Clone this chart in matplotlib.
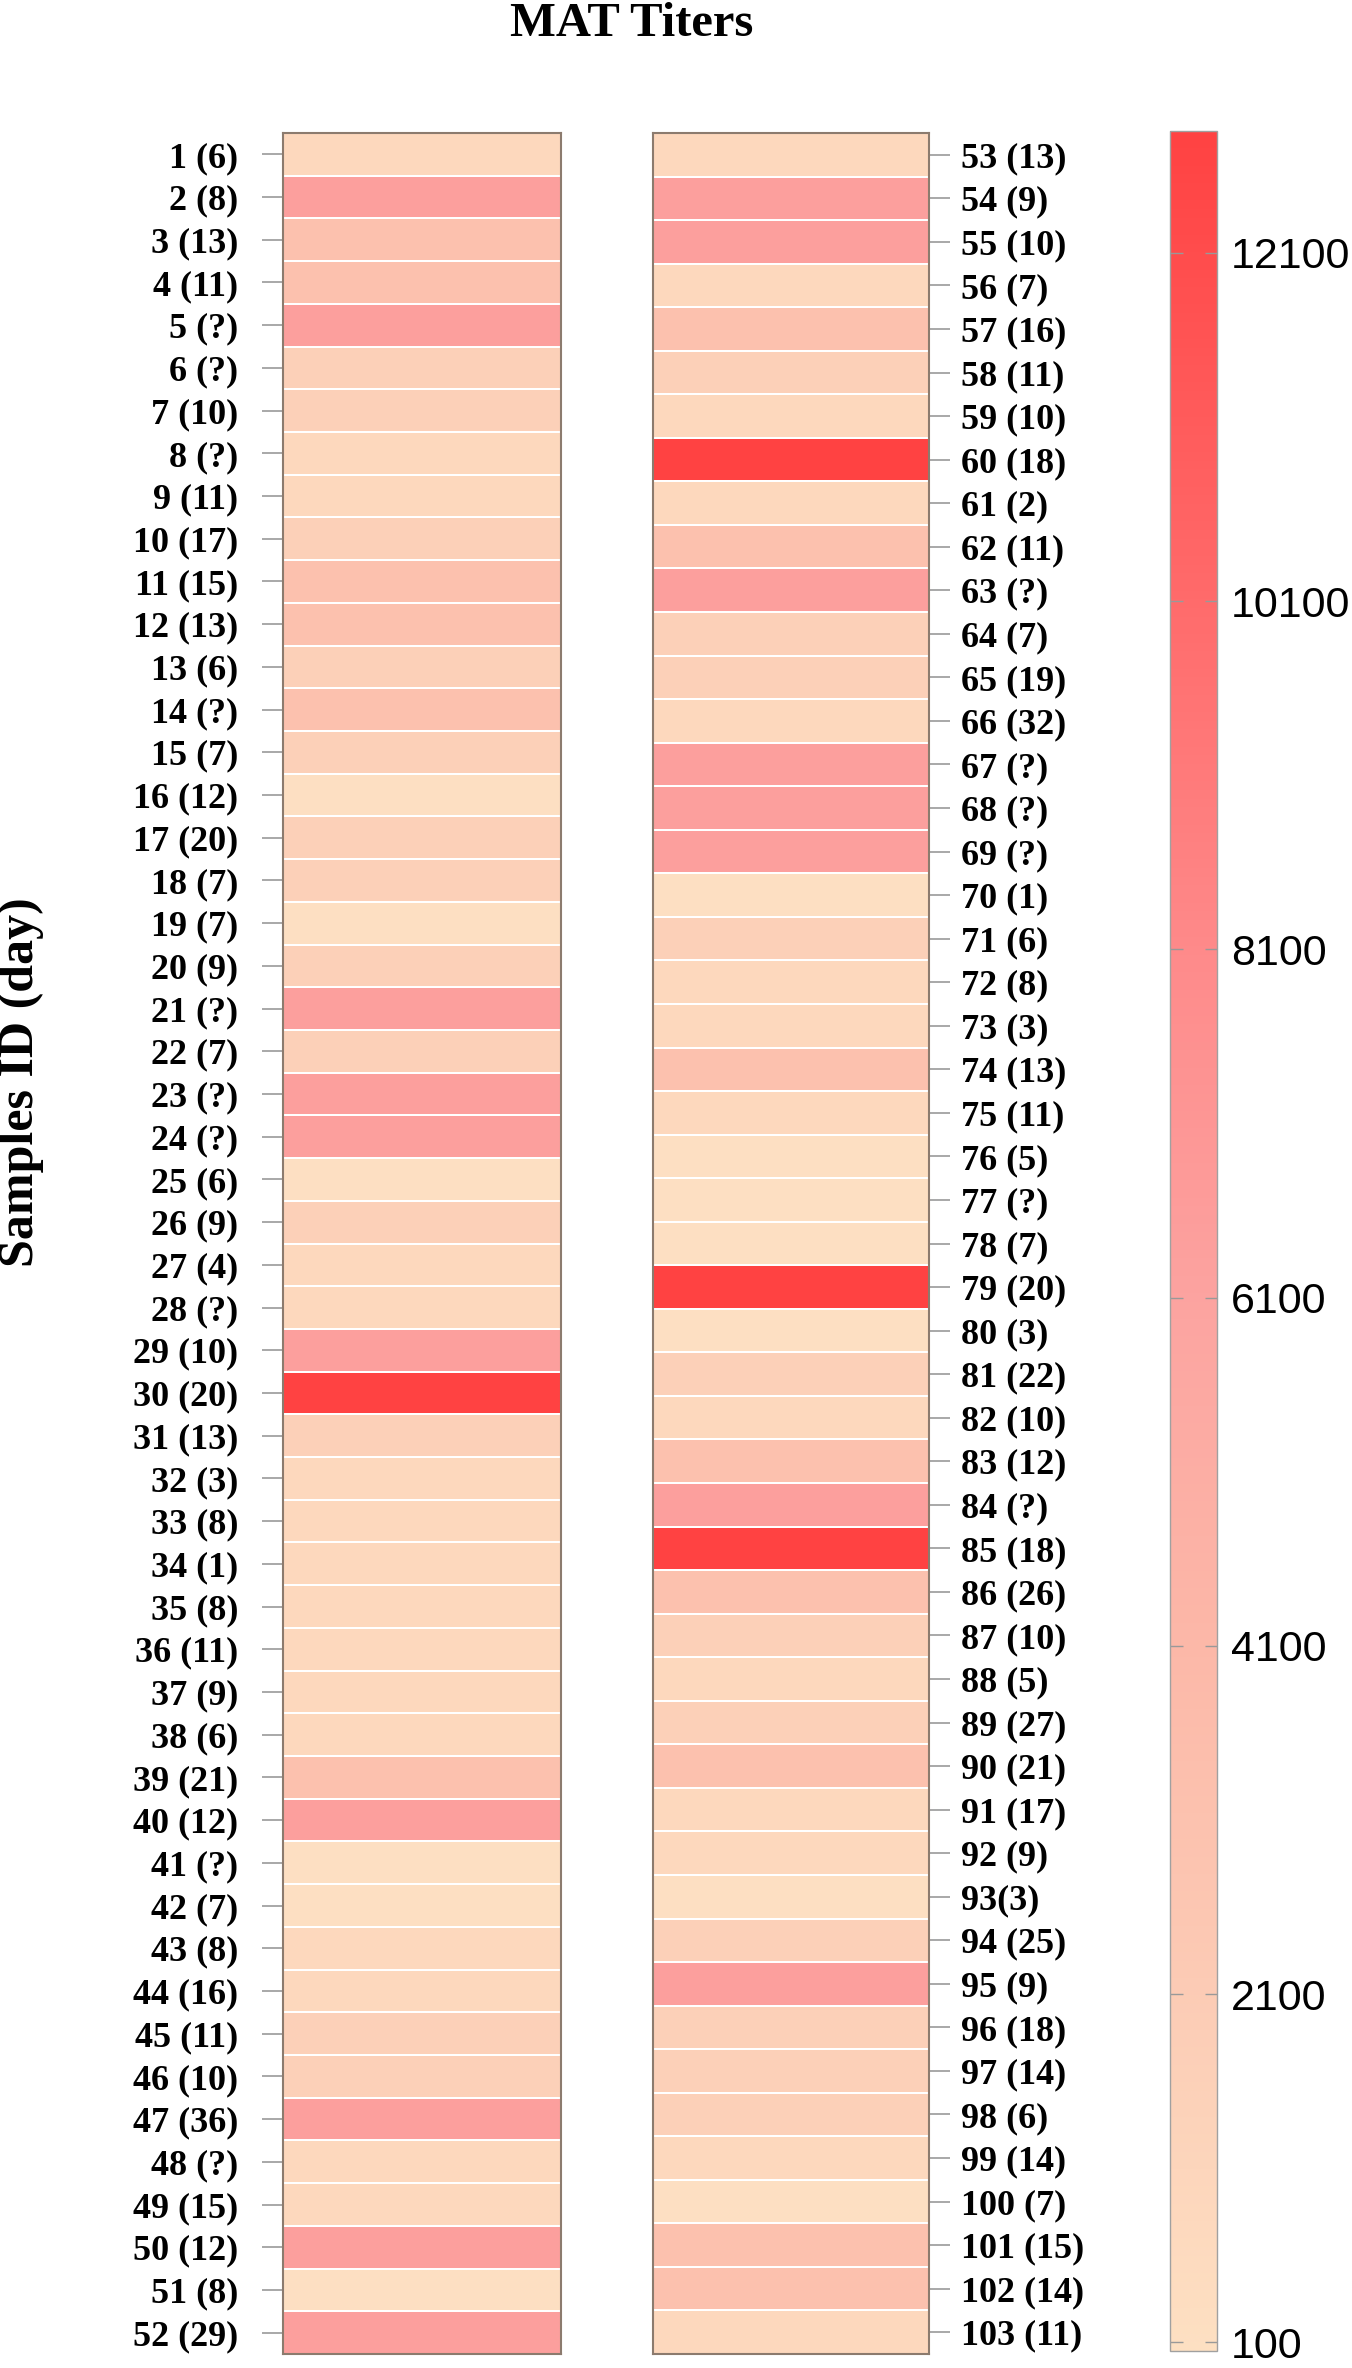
import numpy as np
import matplotlib
matplotlib.use('Agg')
import matplotlib.pyplot as plt
from matplotlib.colors import LinearSegmentedColormap, Normalize

# MAT titers (rows top to bottom)
left_titers = [800, 6400, 3200, 3200, 6400, 1600, 1600, 800, 800, 1600,
               3200, 3200, 1600, 3200, 1600, 100, 1600, 1600, 100, 1600,
               6400, 1600, 6400, 6400, 100, 1600, 800, 800, 6400, 12800,
               1600, 800, 800, 800, 800, 800, 800, 800, 3200, 6400,
               100, 100, 800, 800, 1600, 1600, 6400, 800, 800, 6400,
               100, 6400]
right_titers = [800, 6400, 6400, 800, 3200, 1600, 800, 12800, 800, 3200,
                6400, 1600, 1600, 800, 6400, 6400, 6400, 100, 1600, 800,
                800, 3200, 800, 100, 100, 100, 12800, 100, 1600, 800,
                3200, 6400, 12800, 3200, 1600, 800, 1600, 3200, 800, 800,
                100, 1600, 6400, 1600, 1600, 1600, 800, 100, 3200, 3200,
                800]

left_labels = ['1 (6)', '2 (8)', '3 (13)', '4 (11)', '5 (?)', '6 (?)', '7 (10)', '8 (?)',
               '9 (11)', '10 (17)', '11 (15)', '12 (13)', '13 (6)', '14 (?)', '15 (7)',
               '16 (12)', '17 (20)', '18 (7)', '19 (7)', '20 (9)', '21 (?)', '22 (7)',
               '23 (?)', '24 (?)', '25 (6)', '26 (9)', '27 (4)', '28 (?)', '29 (10)',
               '30 (20)', '31 (13)', '32 (3)', '33 (8)', '34 (1)', '35 (8)', '36 (11)',
               '37 (9)', '38 (6)', '39 (21)', '40 (12)', '41 (?)', '42 (7)', '43 (8)',
               '44 (16)', '45 (11)', '46 (10)', '47 (36)', '48 (?)', '49 (15)', '50 (12)',
               '51 (8)', '52 (29)']
right_labels = ['53 (13)', '54 (9)', '55 (10)', '56 (7)', '57 (16)', '58 (11)', '59 (10)',
                '60 (18)', '61 (2)', '62 (11)', '63 (?)', '64 (7)', '65 (19)', '66 (32)',
                '67 (?)', '68 (?)', '69 (?)', '70 (1)', '71 (6)', '72 (8)', '73 (3)',
                '74 (13)', '75 (11)', '76 (5)', '77 (?)', '78 (7)', '79 (20)', '80 (3)',
                '81 (22)', '82 (10)', '83 (12)', '84 (?)', '85 (18)', '86 (26)', '87 (10)',
                '88 (5)', '89 (27)', '90 (21)', '91 (17)', '92 (9)', '93(3)', '94 (25)',
                '95 (9)', '96 (18)', '97 (14)', '98 (6)', '99 (14)', '100 (7)', '101 (15)',
                '102 (14)', '103 (11)']

cbar_ticks = [100, 2100, 4100, 6100, 8100, 10100, 12100]
vmin, vmax = 50, 12800

serif = ['Liberation Serif', 'DejaVu Serif']
sans = ['Liberation Sans', 'DejaVu Sans']

stops = [(50, '#fde0c2'), (2100, '#fccbb5'), (4100, '#fcb8a8'), (6100, '#fca3a0'),
         (8100, '#fe8a8a'), (10100, '#ff6b6b'), (12800, '#ff4242')]
cmap = LinearSegmentedColormap.from_list(
    'mat', [((v - vmin) / (vmax - vmin), c) for v, c in stops])
norm = Normalize(vmin=vmin, vmax=vmax)

W, H = 1352, 2368
fig = plt.figure(figsize=(W / 100, H / 100), dpi=100)


def box(x0, y0, x1, y1):
    return [x0 / W, 1 - y1 / H, (x1 - x0) / W, (y1 - y0) / H]


def heat(ax, vals, labels, side):
    n = len(vals)
    data = np.array(vals, dtype=float).reshape(n, 1)
    m = ax.pcolormesh(data, cmap=cmap, norm=norm, edgecolors='white', linewidth=1.2)
    ax.set_ylim(n, 0)
    ax.set_xlim(0, 1)
    ax.set_xticks([])
    ax.set_yticks(np.arange(n) + 0.5)
    ax.set_yticklabels(labels, fontsize=26, fontweight='bold', family=serif)
    if side == 'right':
        ax.yaxis.tick_right()
        ax.tick_params(axis='y', length=15, width=1.2, color='#999999', pad=8)
    else:
        ax.tick_params(axis='y', length=15, width=1.2, color='#999999', pad=17)
    for s in ax.spines.values():
        s.set_color('#8c7b6e')
        s.set_linewidth(1.5)
        s.set_zorder(5)
    return m


ax1 = fig.add_axes(box(283, 133, 561, 2354))
ax2 = fig.add_axes(box(653, 133, 929, 2354))
mesh = heat(ax1, left_titers, left_labels, 'left')
heat(ax2, right_titers, right_labels, 'right')

cax = fig.add_axes(box(1170, 131, 1217, 2351))
cb = fig.colorbar(mesh, cax=cax, ticks=cbar_ticks)
cb.outline.set_edgecolor('#a0a0a0')
cb.outline.set_linewidth(1.0)
cax.tick_params(axis='y', direction='in', left=True, right=True, length=9,
                width=1.0, color='#999999', labelsize=31, pad=10)
for t in cax.get_yticklabels():
    t.set_family(sans)

fig.text(632 / W, 1 - 24 / H, 'MAT Titers', ha='center', va='center',
         fontsize=35, fontweight='bold', family=serif)
fig.text(21 / W, 1 - 1082 / H, 'Samples ID (day)', ha='center', va='center',
         rotation=90, fontsize=36, fontweight='bold', family=serif)

fig.savefig('out.png', dpi=100)
